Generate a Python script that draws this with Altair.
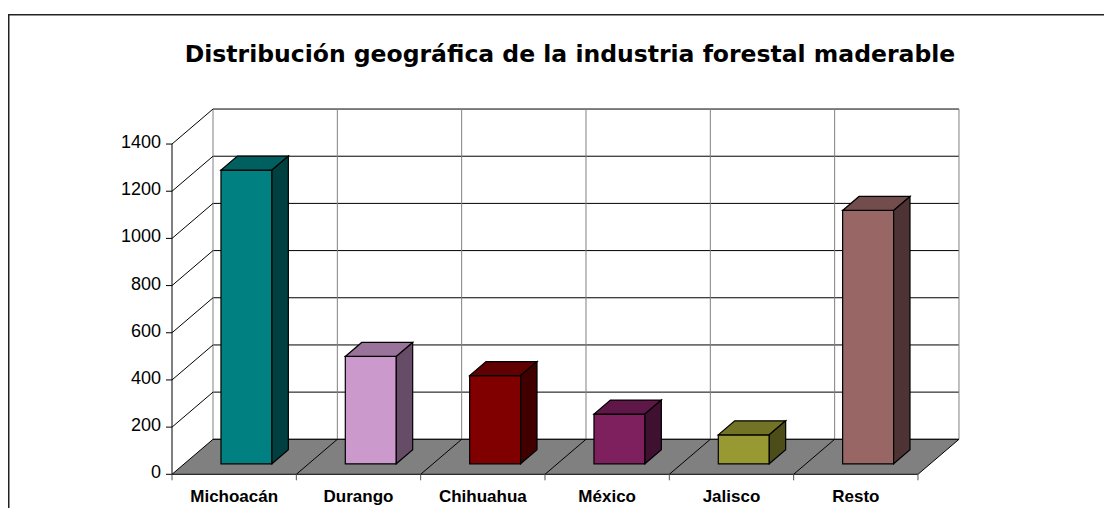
import altair as alt
import pandas as pd

# ---------------- data ----------------
categories = ["Michoacán", "Durango", "Chihuahua", "México", "Jalisco", "Resto"]
values = [1245, 455, 374, 211, 123, 1074]
front_colors = ["#008080", "#CC99CC", "#800000", "#7E1F5E", "#999933", "#996666"]
top_colors = ["#006060", "#9A739A", "#600000", "#5F1747", "#737326", "#734D4D"]
side_colors = ["#004040", "#664C66", "#400000", "#3F102F", "#4D4D1A", "#4D3333"]
y_ticks = [0, 200, 400, 600, 800, 1000, 1200, 1400]
title_text = "Distribución geográfica de la industria forestal maderable"

# ---------------- projection / layout ----------------
CAT_PX = 124.33          # pixels per category
VAL_PX = 0.2359          # pixels per value unit
PLOT_W, PLOT_H = 1095, 494
ORIGIN_X, ORIGIN_Y = 163.0, 460.3   # plot pixel of front (0, 0)
DX = 41 / CAT_PX         # depth offset (x, category units)
DY = 35 / VAL_PX         # depth offset (y, value units)
D0, D1 = 0.30, 0.70      # bar depth span
BAR_W = 0.41
YMAX = y_ticks[-1]
N = len(categories)
FONT = "Liberation Sans, Arial, sans-serif"
TITLE_FONT = "DejaVu Sans, Liberation Sans, sans-serif"

x_scale = alt.Scale(domain=[-ORIGIN_X / CAT_PX, (PLOT_W - ORIGIN_X) / CAT_PX], nice=False, zero=False)
y_scale = alt.Scale(domain=[-(PLOT_H - ORIGIN_Y) / VAL_PX, ORIGIN_Y / VAL_PX], nice=False, zero=False)

# ---------------- polygons (areas) ----------------
poly_rows = []

def add_poly(rows, pid, pts, fill):
    for i, (x, lo, hi) in enumerate(pts):
        rows.append({"poly": pid, "x": x, "lo": lo, "hi": hi, "fill": fill})

floor_rows = []
add_poly(floor_rows, "floor", [(0, 0, 0), (DX, 0, DY), (N, 0, DY), (N + DX, DY, DY)], "#808080")

for i, (cat, v) in enumerate(zip(categories, values)):
    c = i + 0.5
    xl0, xr0 = c - BAR_W / 2 + D0 * DX, c + BAR_W / 2 + D0 * DX
    xl1, xr1 = c - BAR_W / 2 + D1 * DX, c + BAR_W / 2 + D1 * DX
    b0, b1 = D0 * DY, D1 * DY
    v0, v1 = v + D0 * DY, v + D1 * DY
    add_poly(poly_rows, f"{i}a_front", [(xl0, b0, v0), (xr0, b0, v0)], front_colors[i])
    add_poly(poly_rows, f"{i}b_top", [(xl0, v0, v0), (xl1, v0, v1), (xr0, v0, v1), (xr1, v1, v1)], top_colors[i])
    add_poly(poly_rows, f"{i}c_side", [(xr0, b0, v0), (xr1, b1, v1)], side_colors[i])

floor_df = pd.DataFrame(floor_rows)
bars_df = pd.DataFrame(poly_rows)

# ---------------- lines (walls, axis, ticks) ----------------
rule_rows = []
for v in y_ticks:
    rule_rows.append({"x": DX, "y": v + DY, "x2": N + DX, "y2": v + DY, "col": "#000000"})
for k in range(N + 1):
    rule_rows.append({"x": k + DX, "y": DY, "x2": k + DX, "y2": YMAX + DY, "col": "#808080"})
for v in y_ticks[1:]:
    rule_rows.append({"x": 0, "y": v, "x2": DX, "y2": v + DY, "col": "#000000"})
rule_rows.append({"x": 0, "y": 0, "x2": 0, "y2": YMAX, "col": "#000000"})
for v in y_ticks:
    rule_rows.append({"x": -6 / CAT_PX, "y": v, "x2": 0, "y2": v, "col": "#000000"})
walls_df = pd.DataFrame(rule_rows)

floor_lines = []
for k in range(1, N):
    floor_lines.append({"x": k, "y": 0, "x2": k + DX, "y2": DY, "col": "#000000"})
for k in range(N + 1):
    floor_lines.append({"x": k, "y": 0, "x2": k, "y2": -6 / VAL_PX, "col": "#555555"})
floor_lines_df = pd.DataFrame(floor_lines)

ylab_df = pd.DataFrame({"v": y_ticks, "label": [str(t) for t in y_ticks]})
xlab_df = pd.DataFrame({"x": [i + 0.5 for i in range(N)], "label": categories})

def X(f):
    return alt.X(f, type="quantitative", scale=x_scale, axis=None)

def Y(f):
    return alt.Y(f, type="quantitative", scale=y_scale, axis=None, stack=None)

walls = alt.Chart(walls_df).mark_rule(strokeWidth=1).encode(
    x=X("x"), y=Y("y"), x2="x2", y2="y2", color=alt.Color("col:N", scale=None)
)

floor = alt.Chart(floor_df).mark_area(
    orient="vertical", interpolate="linear", stroke="black", strokeWidth=1
).encode(
    x=X("x"), y=Y("lo"), y2="hi", fill=alt.Fill("fill:N", scale=None)
)

floor_lines_l = alt.Chart(floor_lines_df).mark_rule(strokeWidth=1).encode(
    x=X("x"), y=Y("y"), x2="x2", y2="y2", color=alt.Color("col:N", scale=None)
)

bars = alt.Chart(bars_df).mark_area(
    orient="vertical", interpolate="linear", stroke="black", strokeWidth=1.2
).encode(
    x=X("x"), y=Y("lo"), y2="hi", detail="poly:N",
    fill=alt.Fill("fill:N", scale=None)
)

ylabels = alt.Chart(ylab_df).mark_text(
    align="right", baseline="middle", font=FONT, fontSize=18, color="black", dy=-1
).encode(x=alt.value(152), y=Y("v"), text="label:N")

xlabels = alt.Chart(xlab_df).mark_text(
    align="center", baseline="alphabetic", font=FONT, fontSize=17, fontWeight="bold", color="black"
).encode(x=X("x"), y=alt.value(488), text="label:N")

title_df = pd.DataFrame({"t": [title_text]})
title = alt.Chart(title_df).mark_text(
    align="center", baseline="alphabetic", font=TITLE_FONT, fontSize=23.5, fontWeight="bold", color="black"
).encode(x=alt.value(561), y=alt.value(48), text="t:N")

border_top = alt.Chart(title_df).mark_rule(color="#222222", strokeWidth=1.6).encode(
    x=alt.value(-1), x2=alt.value(PLOT_W + 5), y=alt.value(0.8)
)
border_left = alt.Chart(title_df).mark_rule(color="#222222", strokeWidth=1.6).encode(
    x=alt.value(-0.3), y=alt.value(0), y2=alt.value(PLOT_H + 5)
)

chart = alt.layer(
    walls, floor, floor_lines_l, bars, ylabels, xlabels, title, border_top, border_left
).properties(
    width=PLOT_W, height=PLOT_H,
    autosize=alt.AutoSizeParams(type="none"),
    padding={"left": 1, "top": 6, "right": 0, "bottom": 0},
).configure_view(stroke=None)

chart.save("out.html", embed_options={"renderer": "svg", "actions": False})
